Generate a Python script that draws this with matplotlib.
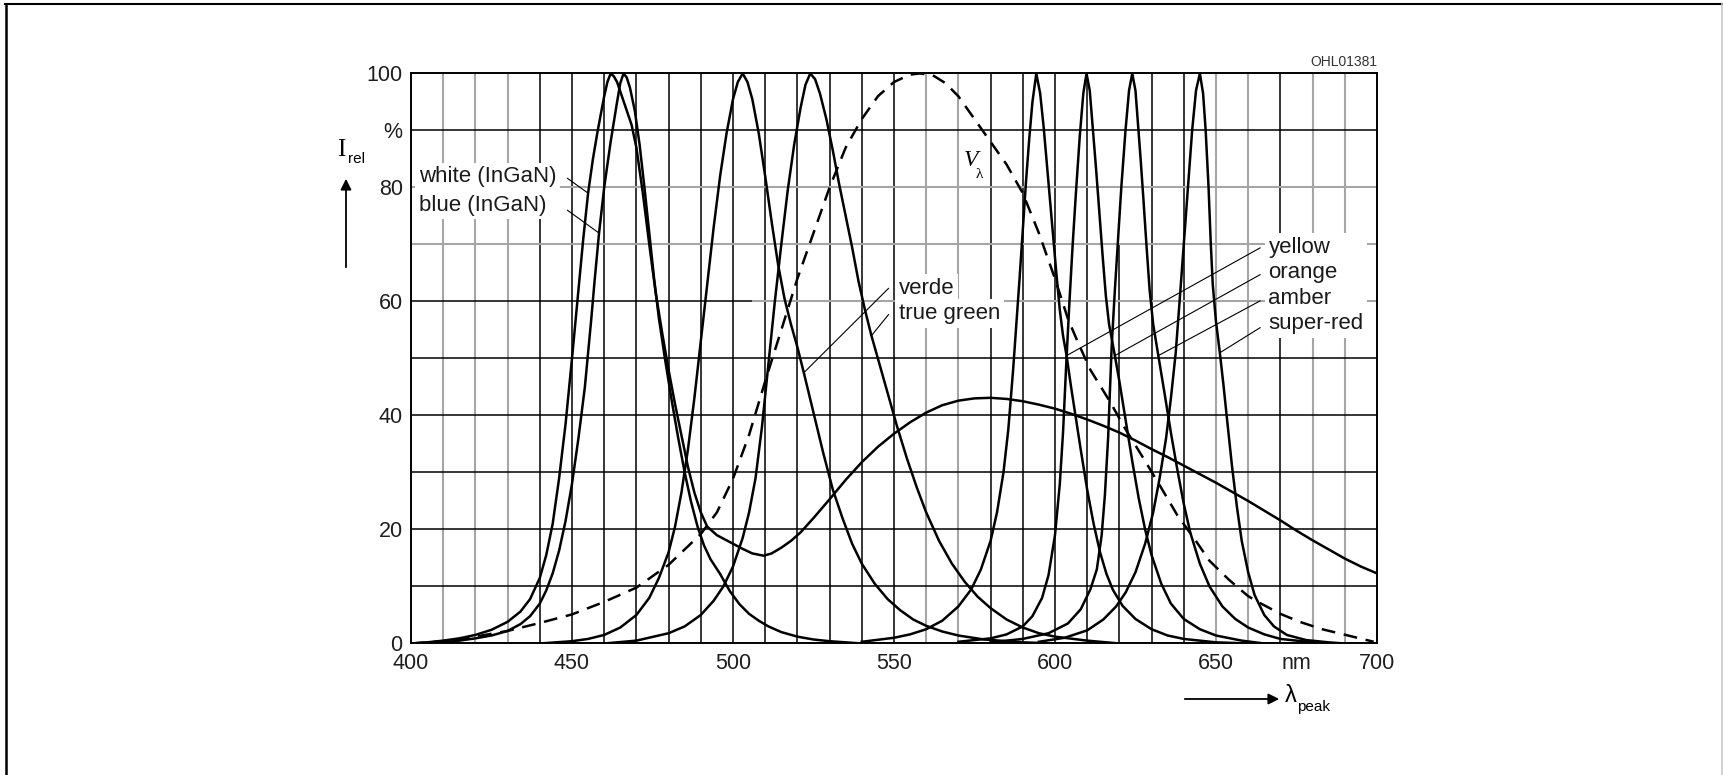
import matplotlib.pyplot as plt
from matplotlib.lines import Line2D
from matplotlib.patches import FancyArrowPatch

plt.rcParams['font.family'] = ['Liberation Sans', 'DejaVu Sans']

# relative intensity (%) against wavelength (nm)
white_wl = [400, 405, 410, 415, 420, 425, 430, 434, 437, 440, 442, 444, 446, 448, 450, 452, 453.5,
            455, 456.5, 458, 460, 461, 462, 463, 464, 465.5, 467, 468.5, 470, 472, 474, 476, 478,
            480, 482, 484, 486, 488, 490, 492, 495, 499, 503, 506, 509.5, 512, 515, 518, 521, 525,
            530, 535, 540, 545, 550, 555, 560, 565, 570, 575, 580, 585, 590, 595, 600, 605, 610,
            615, 620, 625, 630, 635, 640, 645, 650, 655, 660, 665, 670, 675, 680, 685, 690, 695, 700]
white_val = [0, 0.2, 0.5, 0.9, 1.5, 2.4, 3.8, 5.6, 7.8, 11.5, 15.5, 21, 29, 38.5, 50, 62, 71,
             79, 85, 90, 96, 98.5, 100, 99.5, 98.5, 96, 93.5, 91, 87, 79, 70, 61.5, 54.5,
             48, 42, 36.5, 31, 26.5, 23, 20.5, 19, 17.8, 16.6, 15.8, 15.4, 15.8, 16.8, 18, 19.5, 22,
             25.3, 28.7, 31.8, 34.5, 36.8, 38.8, 40.5, 41.8, 42.6, 43, 43.1, 42.9, 42.5, 41.9, 41.2, 40.3, 39.3,
             38.2, 37, 35.6, 34.1, 32.7, 31.2, 29.7, 28.2, 26.6, 25, 23.3, 21.6, 19.8, 18.1, 16.5, 14.9, 13.5, 12.3]

blue_wl = [400, 410, 415, 420, 425, 430, 434, 437, 440, 442, 444, 446, 448, 450, 452, 454, 456, 457,
           458.4, 460, 462, 464, 465, 466, 467, 468, 469.5, 471, 472.5, 474, 475.5, 477, 479, 481,
           483, 485, 487, 489, 491, 493, 496, 499, 502, 505, 508, 511, 515, 520, 525, 530, 540]
blue_val = [0, 0.2, 0.5, 0.9, 1.4, 2.2, 3.4, 4.8, 7, 9.3, 12.3, 16.3, 21.5, 28, 36, 45, 57, 63.5,
            72, 80, 88, 95, 98.3, 100, 99.3, 97.5, 93.5, 87.5, 80, 72, 64, 57, 49.5, 42.5,
            36, 30, 24.8, 20.5, 17.2, 14.8, 12.2, 9.2, 6.9, 5.2, 4, 3, 2, 1.2, 0.7, 0.4, 0]

verde_wl = [440, 450, 455, 460, 465, 470, 474, 477, 480, 482, 484, 486, 488, 490, 492, 494, 496, 498,
            500, 501.5, 503, 504.5, 506, 508, 510, 512, 514, 516, 518, 520, 522, 525, 528, 531, 534,
            537, 540, 544, 548, 552, 556, 560, 565, 570, 578, 590, 600]
verde_val = [0, 0.4, 0.8, 1.5, 2.8, 5, 8, 11.5, 16, 20.5, 26.5, 34, 43, 53, 63, 73, 82, 89.5,
             95.5, 98.5, 100, 98.5, 95.5, 89.5, 82, 74, 66.5, 60.5, 56, 52, 47.5, 40.5, 33.5, 27, 22,
             17.5, 14, 10.5, 7.8, 5.8, 4.2, 3.1, 2.1, 1.4, 0.7, 0.2, 0]

green_wl = [460, 470, 480, 485, 490, 494, 497, 500, 503, 505, 507, 509, 511, 513, 515, 517, 519, 521,
            522.5, 524, 525.5, 527, 529, 531, 533, 535, 537, 539, 541, 543, 545, 548, 551, 554, 557,
            560, 564, 568, 572, 576, 580, 585, 590, 595, 600, 610, 620]
green_val = [0, 0.5, 1.8, 3, 5, 7.5, 10, 13.5, 18.5, 23, 29, 38, 49, 60, 70, 79.5, 87.5, 94,
             98, 100, 99, 96.5, 92, 86.5, 80.5, 75, 69.5, 63.5, 58.5, 54, 50, 44, 38, 32.5, 27.5,
             23, 18, 14, 10.8, 8.2, 6.2, 4.2, 2.8, 1.8, 1.2, 0.5, 0]

yellow_wl = [540, 550, 555, 560, 565, 570, 574, 577, 580, 582, 584, 585.5, 587, 588, 589, 590, 591,
             592, 593, 594.2, 595.4, 596.5, 597.5, 598.5, 599.5, 600.5, 601.5, 602.5, 603.6, 605,
             606.5, 608, 610, 612, 614, 616, 618, 621, 625, 630, 635, 640, 650, 660]
yellow_val = [0.3, 1, 1.6, 2.5, 4, 6.5, 9.5, 13, 18, 23, 30, 37.5, 48, 56, 64, 72.5, 81,
              88.5, 95, 100, 96.5, 90.5, 84, 77.5, 71, 64.5, 58.5, 54, 50.5, 45,
              39.5, 34, 27, 21, 16, 12.2, 9.4, 6.6, 4.3, 2.5, 1.4, 0.8, 0.2, 0]

orange_wl = [570, 580, 585, 590, 593, 596, 598, 600, 601.5, 602.5, 603.5, 604.5, 605.5, 606.5, 607.7,
             608.8, 609.8, 610.8, 611.8, 612.8, 613.8, 614.8, 615.8, 616.8, 618.6, 620, 622, 624, 626,
             628, 630, 633, 636, 640, 645, 650, 658, 665]
orange_val = [0.3, 0.9, 1.6, 3, 4.8, 8, 12, 19, 28, 37, 49, 60, 70, 79, 89,
              96.5, 100, 97, 90, 83, 75.5, 68, 61, 56, 50.5, 46, 39, 32, 25.5,
              20, 15.5, 10.5, 7, 4.3, 2.5, 1.4, 0.5, 0]

amber_wl = [580, 590, 598, 604, 608, 611, 613, 614.5, 615.5, 616.5, 617.6, 618.6, 619.6, 620.6, 621.9,
            623, 624, 625, 625.8, 626.6, 627.4, 628.4, 629.4, 630.5, 632.1, 634, 636, 638, 640, 642,
            645, 648, 652, 656, 660, 665, 670, 680]
amber_val = [0.2, 0.8, 1.8, 3.5, 6, 9.5, 13, 19, 26, 36, 52, 62, 71, 80, 90,
             97, 100, 97, 91, 85, 78.5, 70, 62, 56, 50.5, 44, 37, 30.5, 24.5, 19.5,
             14, 10, 6.5, 4.3, 2.8, 1.6, 0.8, 0.2]

red_wl = [595, 603, 610, 615, 619, 622, 625, 628, 630.5, 632.5, 634.5, 636, 637.5, 638.7, 640, 641.3,
          642.6, 643.8, 645, 646, 646.8, 647.7, 648.4, 649, 650, 651.2, 652.3, 653.5, 655, 656.5, 658,
          660, 662, 665, 668, 672, 678, 685, 690]
red_val = [0.3, 1, 2.3, 4.2, 6.5, 9, 12.5, 17.5, 23, 29, 36, 43, 51, 60, 70, 80,
           90, 97, 100, 96.5, 90, 80, 70, 63, 56.5, 51, 45.5, 39, 31, 24, 18,
           12.5, 8.5, 5, 3, 1.5, 0.6, 0.2, 0]

vlambda_wl = [400, 410, 420, 430, 440, 450, 460, 470, 480, 490, 495, 500, 505, 510, 515, 520, 525,
              530, 535, 540, 545, 550, 555, 558, 562, 566, 570, 575, 580, 585, 590, 595, 600, 604,
              607, 611, 617, 622, 628, 633, 638, 643.5, 648, 654, 660, 664, 670, 676, 683, 691, 699]
vlambda_val = [0, 0.4, 1.2, 2.2, 3.6, 5.1, 7.3, 9.8, 13.8, 19.2, 23, 28.9, 36.6, 46, 55, 64, 72,
               80, 87, 92, 96, 98.5, 99.8, 100, 99.7, 98.3, 96, 92, 88, 84, 79, 72, 64, 57,
               53, 48, 42.5, 37.5, 32, 27.3, 22.5, 18.2, 14.5, 11.2, 8.3, 7, 5.2, 3.8, 2.5, 1.4, 0.3]

x_ticks = [400, 450, 500, 550, 600, 650, 675, 700]
x_ticklabels = ['400', '450', '500', '550', '600', '650', 'nm', '700']
y_ticks = [0, 20, 40, 60, 80, 90, 100]
y_ticklabels = ['0', '20', '40', '60', '80', '%', '100']

grid_black_x = [440, 450, 460, 470, 480, 490, 500, 510, 520, 530, 540, 550, 580, 590, 600, 610, 630, 640, 670]
grid_gray_x = [410, 420, 430, 560, 570, 650, 660, 680, 690]
grid_black_y = [10, 20, 30, 40, 50, 90]
grid_gray_y = [70, 80]

fig = plt.figure(figsize=(17.24, 7.75), dpi=100)
ax = fig.add_axes([0.2384, 0.1697, 0.5603, 0.7355])
ax.set_xlim(400, 700)
ax.set_ylim(0, 100)

# paper-style grid: some lines printed grey, some black
gray = '#a6a6a6'
ax.vlines(grid_gray_x, 0, 100, color=gray, lw=1.5, zorder=1)
ax.vlines(grid_black_x, 0, 100, color='black', lw=1.1, zorder=1)
ax.vlines(620, 0, 70, color='black', lw=1.1, zorder=1)
ax.hlines(grid_gray_y, 400, 700, color=gray, lw=1.5, zorder=1)
ax.hlines(grid_black_y, 400, 700, color='black', lw=1.1, zorder=1)
ax.hlines(60, 400, 506, color='black', lw=1.1, zorder=1)
ax.hlines(60, 506, 700, color=gray, lw=1.5, zorder=1)

curve = dict(color='black', lw=1.8, zorder=4, solid_joinstyle='round')
for wl, val in [(white_wl, white_val), (blue_wl, blue_val), (verde_wl, verde_val),
                (green_wl, green_val), (yellow_wl, yellow_val), (orange_wl, orange_val),
                (amber_wl, amber_val), (red_wl, red_val)]:
    ax.plot(wl, val, **curve)
ax.plot(vlambda_wl, vlambda_val, color='black', lw=1.8, ls=(0, (5.5, 3.5)), zorder=4)

for s in ax.spines.values():
    s.set_linewidth(1.4)
    s.set_zorder(5)

ax.set_xticks(x_ticks)
ax.set_xticklabels(x_ticklabels)
ax.set_yticks(y_ticks)
ax.set_yticklabels(y_ticklabels)
ax.tick_params(length=0, labelsize=15.5, colors='#1e1e1e')
ax.tick_params(axis='x', pad=7)
ax.tick_params(axis='y', pad=6)

# curve labels, white boxes hide the grid behind them
box = dict(facecolor='white', edgecolor='none', pad=2.5)
lab = dict(fontsize=16, color='#1a1a1a', va='center', ha='left', zorder=3, bbox=box)
ax.text(402.5, 81.9, 'white (InGaN)', **lab)
ax.text(402.5, 76.9, 'blue (InGaN)', **lab)
ax.text(551.5, 62.3, 'verde', **lab)
ax.text(551.5, 57.9, 'true green', **lab)
ax.text(666.3, 62.8, 'yellow\norange\namber\nsuper-red', fontsize=16, color='#1a1a1a',
        va='center', ha='left', zorder=3, linespacing=1.28, bbox=box)

leaders = [((448.6, 81.6), (455.0, 79.0)), ((448.6, 76.0), (458.4, 72.0)),
           ((548.3, 62.3), (522.0, 47.5)), ((548.3, 57.7), (543.0, 54.0)),
           ((663.7, 69.4), (603.6, 50.5)), ((663.7, 64.7), (618.6, 50.5)),
           ((663.7, 60.1), (632.1, 50.5)), ((663.7, 55.4), (651.2, 51.0))]
for (x0, y0), (x1, y1) in leaders:
    ax.plot([x0, x1], [y0, y1], color='black', lw=0.8, zorder=4)

ax.text(573.8, 84.8, 'V', fontsize=17, style='italic', family='Liberation Serif',
        ha='center', va='center', zorder=6)
ax.text(576.6, 82.2, 'λ', fontsize=11, family='Liberation Serif', ha='center', va='center', zorder=6)

# axis captions with arrows
W, H = 1724, 775
fig.text(341 / W, 1 - 150 / H, 'I', fontsize=18, family='Liberation Serif', ha='center', va='center')
fig.text(348 / W, 1 - 159 / H, 'rel', fontsize=11, ha='left', va='center')
fig.patches.append(FancyArrowPatch((346 / W, 1 - 270 / H), (346 / W, 1 - 176 / H),
                                   transform=fig.transFigure, arrowstyle='-|>',
                                   mutation_scale=16, lw=1.3, color='black'))
fig.patches.append(FancyArrowPatch((1182 / W, 1 - 699 / H), (1282 / W, 1 - 699 / H),
                                   transform=fig.transFigure, arrowstyle='-|>',
                                   mutation_scale=16, lw=1.3, color='black'))
fig.text(1285 / W, 1 - 696 / H, 'λ', fontsize=17, ha='left', va='center')
fig.text(1297 / W, 1 - 707 / H, 'peak', fontsize=11, ha='left', va='center')
fig.text(1377 / W, 1 - 62 / H, 'OHL01381', fontsize=10, ha='right', va='center', color='#333333')

# page frame around the figure
fig.lines.append(Line2D([5 / W, 1722 / W], [1 - 3.5 / H, 1 - 3.5 / H], transform=fig.transFigure,
                        color='black', lw=1.5))
fig.lines.append(Line2D([6 / W, 6 / W], [0, 1 - 3.5 / H], transform=fig.transFigure,
                        color='black', lw=1.8))
fig.lines.append(Line2D([1722 / W, 1722 / W], [0, 1 - 3.5 / H], transform=fig.transFigure,
                        color='#c8c8c8', lw=1.2))

fig.savefig('out.png', dpi=100)
